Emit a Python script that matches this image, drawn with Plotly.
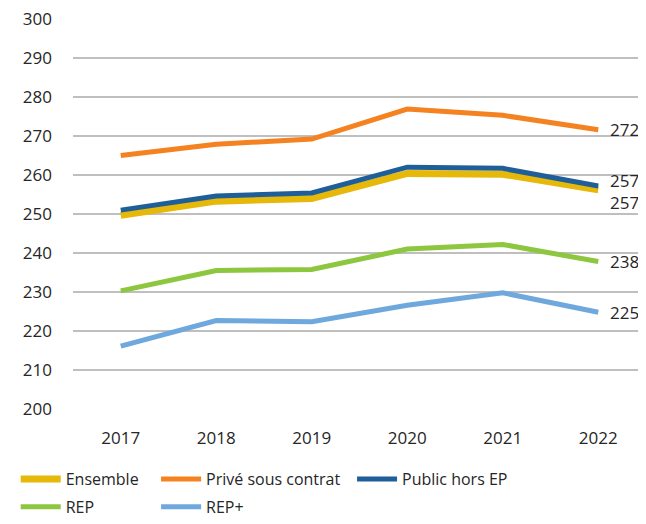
import plotly.graph_objects as go

annees = ["2017", "2018", "2019", "2020", "2021", "2022"]

ensemble = [249.7, 253.3, 254.0, 260.4, 260.2, 256.2]
prive = [265.0, 267.9, 269.2, 276.9, 275.3, 271.6]
public_hors_ep = [251.0, 254.6, 255.4, 262.0, 261.7, 257.2]
rep = [230.3, 235.5, 235.8, 241.0, 242.2, 237.8]
rep_plus = [216.1, 222.7, 222.4, 226.6, 229.8, 224.8]

etiquettes = ["257", "272", "257", "238", "225"]

# nom, valeurs, couleur, épaisseur, décalage étiquette, légende
series = [
    ("Ensemble", ensemble, "#E6B80A", 7, -13, "legend"),
    ("Privé sous contrat", prive, "#F58220", 5, 0, "legend2"),
    ("Public hors EP", public_hors_ep, "#1F5F99", 5, 5, "legend3"),
    ("REP", rep, "#8DC63F", 5, 0, "legend4"),
    ("REP+", rep_plus, "#6FA8DC", 5, 0, "legend5"),
]

fig = go.Figure()

dernier = len(annees) - 1
for (nom, valeurs, couleur, epaisseur, decal, leg), lab in zip(series, etiquettes):
    fig.add_trace(go.Scatter(
        x=annees, y=valeurs, name=nom, mode="lines",
        line=dict(color=couleur, width=epaisseur),
        legend=leg, showlegend=True,
    ))
    # étiquette de fin de courbe (index de catégorie)
    fig.add_annotation(
        x=dernier, y=valeurs[-1], text=lab, showarrow=False,
        xanchor="left", xshift=10, yshift=decal,
        font=dict(size=17, color="#262626"),
    )

leg_commun = dict(xanchor="left", yanchor="middle", font=dict(size=16), itemwidth=40)
ligne1 = dict(leg_commun, y=-0.180)
ligne2 = dict(leg_commun, y=-0.251)

# la page ajoute 8 px de marge autour de la figure
fig.update_layout(
    width=646, height=524, showlegend=True,
    plot_bgcolor="white", paper_bgcolor="white",
    font=dict(family="Open Sans", size=17, color="#262626"),
    margin=dict(l=54, r=8, t=11, b=119),
    xaxis=dict(
        type="category", range=[-0.5, 5.5], showgrid=False,
        showline=False, ticklabelstandoff=17, zeroline=False,
    ),
    yaxis=dict(
        range=[200, 300], tick0=200, dtick=10, showgrid=True,
        gridcolor="#BFBFBF", gridwidth=1.5, zeroline=False,
        ticklabelstandoff=20, ticklabeloverflow="allow", automargin=False,
    ),
    legend=dict(ligne1, x=-0.1),
    legend2=dict(ligne1, x=0.145),
    legend3=dict(ligne1, x=0.487),
    legend4=dict(ligne2, x=-0.1),
    legend5=dict(ligne2, x=0.145),
)

fig.write_html("out.html")
